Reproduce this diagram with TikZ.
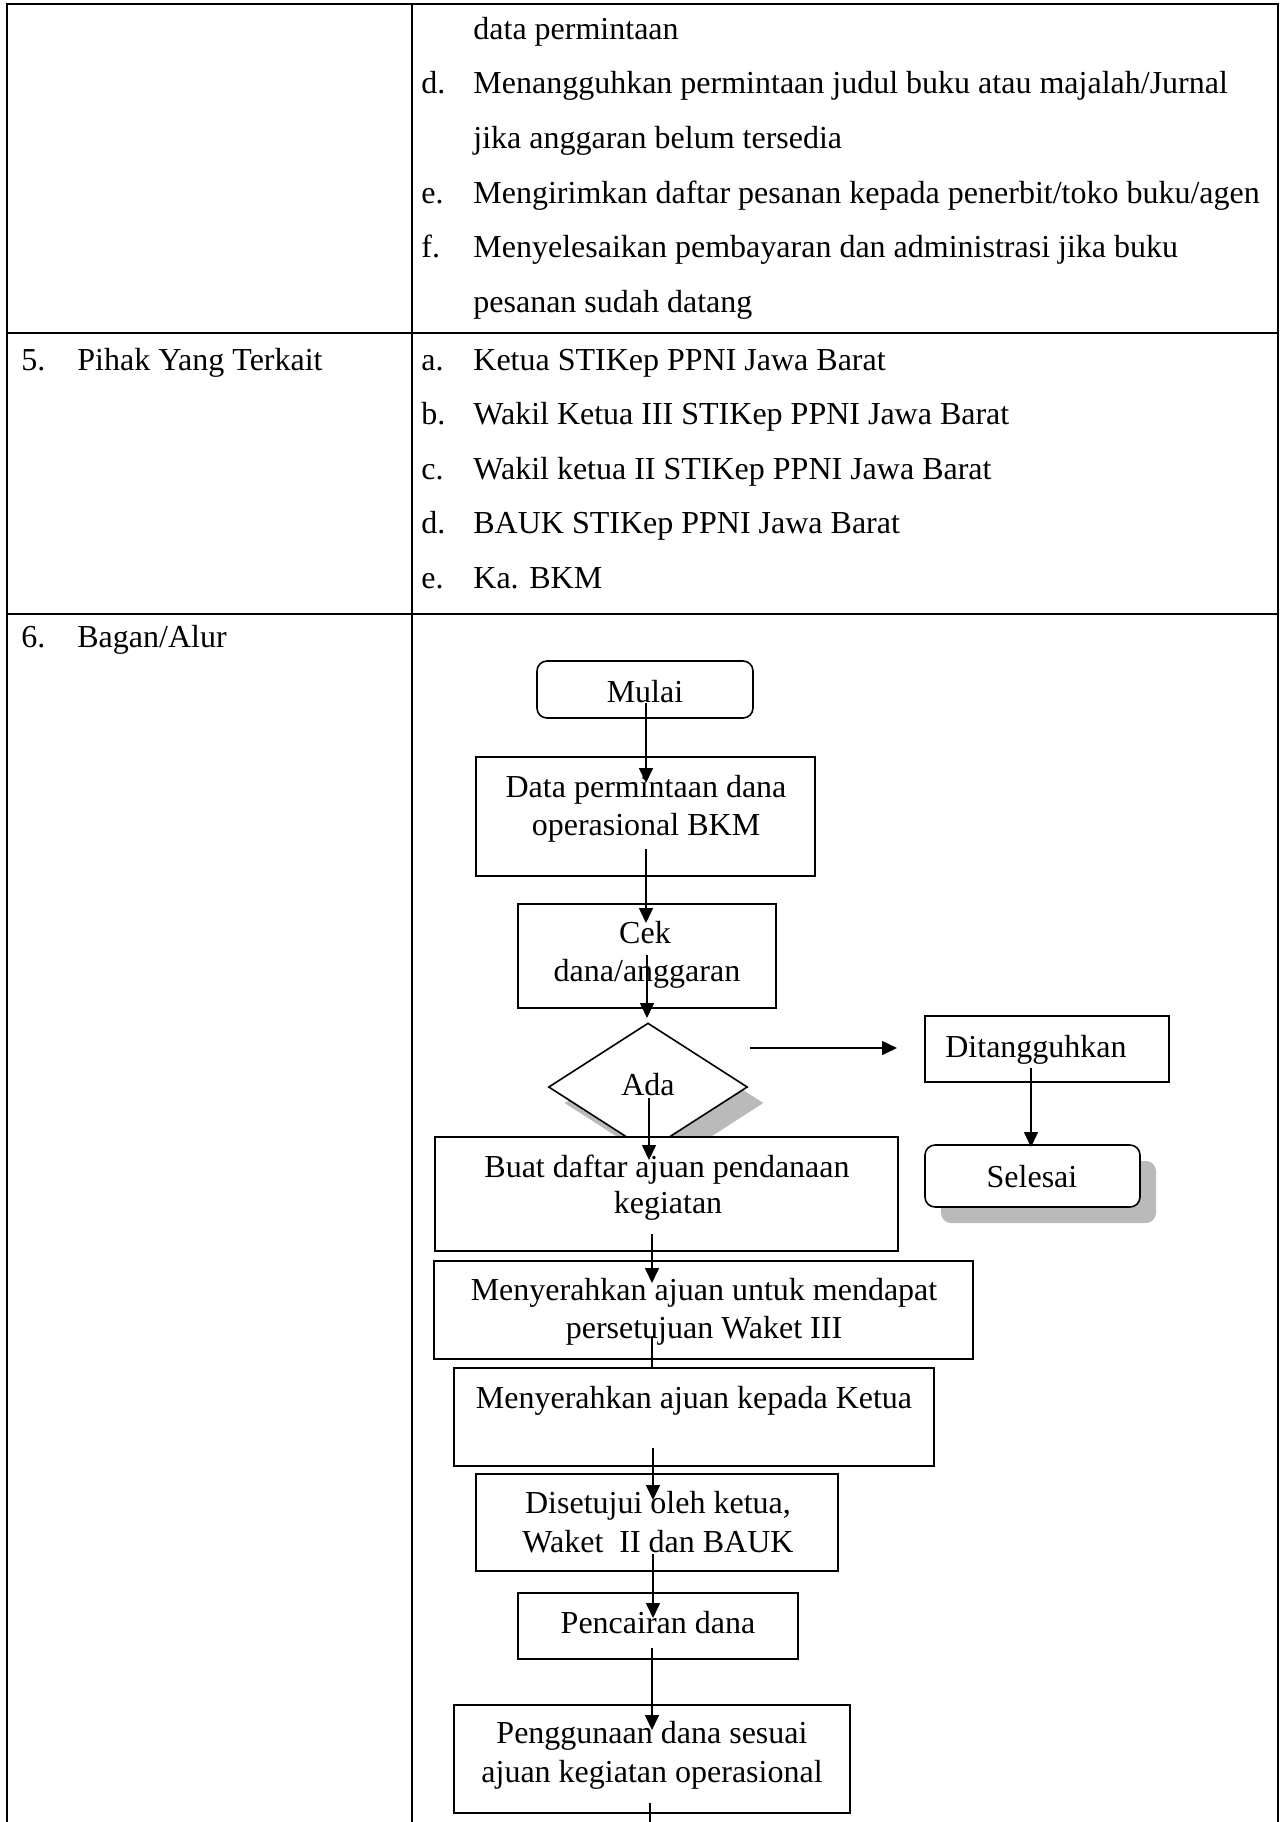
\documentclass[tikz,border=0pt]{standalone}
\usepackage{fontspec}
\setmainfont{Liberation Serif}
\usetikzlibrary{arrows.meta,shapes.geometric,fit}
\begin{document}
\begin{tikzpicture}[x=0.5pt,y=-0.5pt,
  tline/.style={line width=1.3pt},
  txt/.style={inner sep=0pt,anchor=base,font=\fontsize{16}{19}\selectfont},
  ltxt/.style={txt,anchor=base west},
  fbox/.style={draw,line width=0.8pt,fill=white,rectangle,inner sep=0pt},
  rbox/.style={fbox,rounded corners=5pt},
  shadowbox/.style={fill=black!27,draw=none,rectangle,inner sep=0pt,rounded corners=5pt},
  conn/.style={line width=0.8pt,-{Triangle[length=7.5pt,width=7pt]}},
  plainconn/.style={line width=0.8pt}]
\useasboundingbox (0,0) rectangle (1286,1822);
\fill[white] (0,0) rectangle (1286,1822);

% ---- table grid ----
\draw[tline] (7,1822) -- (7,4) -- (1278,4) -- (1278,1822);
\draw[tline] (412,4) -- (412,1822);
\draw[tline] (7,333) -- (1278,333);
\draw[tline] (7,614) -- (1278,614);

% ---- row 4 (continued) ----
\node[ltxt] (t0) at (473,39) {data permintaan};
\node[ltxt] (t1l) at (421,93.7) {d.};
\node[ltxt] (t1) at (473,93.7) {Menangguhkan permintaan judul buku atau majalah/Jurnal};
\node[ltxt] (t2) at (473,148.4) {jika anggaran belum tersedia};
\node[ltxt] (t3l) at (421,203.1) {e.};
\node[ltxt] (t3) at (473,203.1) {Mengirimkan daftar pesanan kepada penerbit/toko buku/agen};
\node[ltxt] (t4l) at (421,257.8) {f.};
\node[ltxt] (t4) at (473,257.8) {Menyelesaikan pembayaran dan administrasi jika buku};
\node[ltxt] (t5) at (473,312.5) {pesanan sudah datang};

% ---- row 5 ----
\node[ltxt] (r5n) at (21,370) {5.};
\node[ltxt] (r5h) at (77,370) {Pihak Yang Terkait};
\node[ltxt] (r5al) at (421,370) {a.};
\node[ltxt] (r5a) at (473,370) {Ketua STIKep PPNI Jawa Barat};
\node[ltxt] (r5bl) at (421,424.5) {b.};
\node[ltxt] (r5b) at (473,424.5) {Wakil Ketua III STIKep PPNI Jawa Barat};
\node[ltxt] (r5cl) at (421,479) {c.};
\node[ltxt] (r5c) at (473,479) {Wakil ketua II STIKep PPNI Jawa Barat};
\node[ltxt] (r5dl) at (421,533.5) {d.};
\node[ltxt] (r5d) at (473,533.5) {BAUK STIKep PPNI Jawa Barat};
\node[ltxt] (r5el) at (421,588) {e.};
\node[ltxt] (r5e) at (473,588) {Ka. BKM};

% ---- row 6 ----
\node[ltxt] (r6n) at (21,647) {6.};
\node[ltxt] (r6h) at (77,647) {Bagan/Alur};

% ---- flowchart boxes ----
\node[rbox,fit={(537,661) (753,718)}] (mulai) {};
\node[txt] (mulaiT) at (645,702) {Mulai};

\node[fbox,fit={(476,757) (815,876)}] (data) {};
\node[txt] (dataT1) at (646,797) {Data permintaan dana};
\node[txt] (dataT2) at (646,835) {operasional BKM};

\node[fbox,fit={(518,904) (776,1008)}] (cek) {};
\node[txt] (cekT1) at (645,943) {Cek};
\node[txt] (cekT2) at (647,981) {dana/anggaran};

\node[diamond,fill=black!27,draw=none,inner sep=0pt,minimum width=99.5pt,minimum height=64pt] (adaS) at (664,1103) {};
\node[diamond,draw,line width=0.8pt,fill=white,inner sep=0pt,minimum width=99.5pt,minimum height=64pt] (ada) at (648,1087) {};
\node[txt] (adaT) at (648,1095) {Ada};

\node[fbox,fit={(925,1016) (1169,1082)}] (tunda) {};
\node[txt] (tundaT) at (1036,1057) {Ditangguhkan};

\node[shadowbox,fit={(941,1161) (1156,1223)}] (selesaiS) {};
\node[rbox,fit={(925,1145) (1140,1207)}] (selesai) {};
\node[txt] (selesaiT) at (1032,1187) {Selesai};

\node[fbox,fit={(435,1137) (898,1251)}] (buat) {};
\node[txt] (buatT1) at (667,1177) {Buat daftar ajuan pendanaan};
\node[txt] (buatT2) at (668,1213) {kegiatan};

\node[fbox,fit={(434,1261) (973,1359)}] (serah1) {};
\node[txt] (serah1T1) at (704,1300) {Menyerahkan ajuan untuk mendapat};
\node[txt] (serah1T2) at (704,1338) {persetujuan Waket III};

\node[fbox,fit={(454,1368) (934,1466)}] (serah2) {};
\node[txt] (serah2T) at (694,1408) {Menyerahkan ajuan kepada Ketua};

\node[fbox,fit={(476,1474) (838,1571)}] (setuju) {};
\node[txt] (setujuT1) at (658,1513) {Disetujui oleh ketua,};
\node[txt] (setujuT2) at (658,1552) {Waket\ \ II dan BAUK};

\node[fbox,fit={(518,1593) (798,1659)}] (cair) {};
\node[txt] (cairT) at (658,1633) {Pencairan dana};

\node[fbox,fit={(454,1705) (850,1813)}] (guna) {};
\node[txt] (gunaT1) at (652,1743) {Penggunaan dana sesuai};
\node[txt] (gunaT2) at (652,1782) {ajuan kegiatan operasional};

% ---- connector end points ----
\coordinate (c1s) at (646,703);  \coordinate (c1e) at (646,783);
\coordinate (c2s) at (646,849);  \coordinate (c2e) at (646,923);
\coordinate (c3s) at (647,955);  \coordinate (c3e) at (647,1018);
\coordinate (c4s) at (750,1048); \coordinate (c4e) at (897,1048);
\coordinate (c5s) at (1031,1068);\coordinate (c5e) at (1031,1147);
\coordinate (c6s) at (649,1098); \coordinate (c6e) at (649,1160);
\coordinate (c7s) at (652,1234); \coordinate (c7e) at (652,1283);
\coordinate (c8s) at (652,1337); \coordinate (c8e) at (652,1368);
\coordinate (c9s) at (653,1448); \coordinate (c9e) at (653,1500);
\coordinate (c10s) at (653,1554);\coordinate (c10e) at (653,1618);
\coordinate (c11s) at (652,1648);\coordinate (c11e) at (652,1730);
\coordinate (c12s) at (650,1803);\coordinate (c12e) at (650,1822);

% ---- connectors ----
\draw[conn] (c1s) -- (c1e);
\draw[conn] (c2s) -- (c2e);
\draw[conn] (c3s) -- (c3e);
\draw[conn] (c4s) -- (c4e);
\draw[conn] (c5s) -- (c5e);
\draw[conn] (c6s) -- (c6e);
\draw[conn] (c7s) -- (c7e);
\draw[plainconn] (c8s) -- (c8e);
\draw[conn] (c9s) -- (c9e);
\draw[conn] (c10s) -- (c10e);
\draw[conn] (c11s) -- (c11e);
\draw[plainconn] (c12s) -- (c12e);
\end{tikzpicture}
\end{document}
